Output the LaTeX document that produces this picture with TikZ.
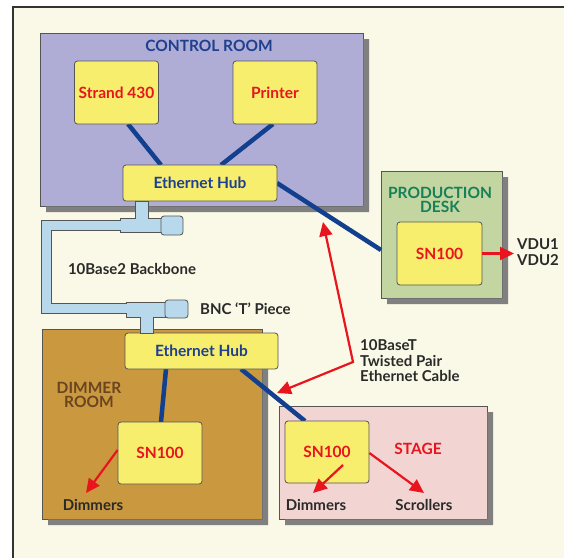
\documentclass[tikz,border=0pt]{standalone}
\usepackage{fontspec}
\setmainfont{Lato}
\usetikzlibrary{arrows.meta}
\definecolor{cream}{HTML}{FAF8E6}
\definecolor{framec}{HTML}{333333}
\definecolor{ctrlfill}{HTML}{AFADD6}
\definecolor{prodfill}{HTML}{C3D5A0}
\definecolor{dimfill}{HTML}{C9983F}
\definecolor{stagefill}{HTML}{F2D4D2}
\definecolor{devfill}{HTML}{F7EE6E}
\definecolor{edgec}{HTML}{555555}
\definecolor{netblue}{HTML}{123F8E}
\definecolor{titleblue}{HTML}{1F3F8F}
\definecolor{redc}{HTML}{E8141E}
\definecolor{greenc}{HTML}{168058}
\definecolor{brownc}{HTML}{6B4420}
\definecolor{textc}{HTML}{2A2A2A}
\definecolor{pipefill}{HTML}{B8D8EC}
\tikzset{
  room/.style={draw=edgec, line width=0.6pt, anchor=north west, inner sep=0pt, outer sep=0pt},
  shadowfill/.style={fill=gray},
  device/.style={draw=edgec, line width=0.8pt, fill=devfill, rounded corners=3pt,
    inner sep=0pt, font=\fontsize{15.5}{17}\selectfont\bfseries},
  devred/.style={device, text=redc},
  devblue/.style={device, text=titleblue},
  netline/.style={netblue, line width=4.5pt},
  redarrow/.style={redc, line width=2.2pt, -{Triangle[length=14pt,width=13pt]}},
  lbl/.style={font=\fontsize{15}{15.5}\selectfont\bfseries, text=textc, inner sep=0pt},
  roomtitle/.style={font=\fontsize{15.5}{14.5}\selectfont\bfseries, inner sep=0pt, align=center},
  pipeedge/.style={draw=edgec, line width=0.8pt, fill=pipefill},
}
\begin{document}
\begin{tikzpicture}[x=1pt,y=-1pt]
\useasboundingbox (0,0) rectangle (564,558);
\fill[white] (0,0) rectangle (564,558);
\fill[cream] (13,7) rectangle (564,558);
\draw[framec, line width=2pt] (13,558) -- (13,7) -- (564,7);

% rooms
\node[room, fill=ctrlfill, minimum width=323pt, minimum height=173pt] (ctrl) at (40,33) {};
\node[room, fill=dimfill, minimum width=220pt, minimum height=190pt] (dimroom) at (42,329) {};
\node[room, fill=stagefill, minimum width=208pt, minimum height=113pt] (stage) at (279,406) {};
\node[room, fill=prodfill, minimum width=121pt, minimum height=127pt] (prod) at (381,171) {};

% room shadows (right and bottom strips)
\fill[shadowfill] (363.3,39) -- (369,39) -- (369,212) -- (46,212) -- (46,206.3) -- (363.3,206.3) -- cycle;
\fill[shadowfill] (262.3,335) -- (268,335) -- (268,525) -- (48,525) -- (48,519.3) -- (262.3,519.3) -- cycle;
\fill[shadowfill] (487.3,412) -- (493,412) -- (493,525) -- (285,525) -- (285,519.3) -- (487.3,519.3) -- cycle;
\fill[shadowfill] (502.3,177) -- (508,177) -- (508,304) -- (387,304) -- (387,298.3) -- (502.3,298.3) -- cycle;

\node[roomtitle, text=titleblue] (ctrlT) at (209,46) {CONTROL ROOM};
\node[roomtitle, text=greenc] (prodT) at (440,200) {PRODUCTION\\DESK};
\node[roomtitle, text=brownc] (dimT) at (89,395) {DIMMER\\ROOM};
\node[roomtitle, text=redc] (stageT) at (418,449) {STAGE};

% connection points
\coordinate (sA) at (128,124);
\coordinate (hA1) at (161,165);
\coordinate (pA) at (273,124);
\coordinate (hA2) at (221,165);
\coordinate (hA3) at (277,183);
\coordinate (pd) at (381,250);
\coordinate (hB1) at (166,369);
\coordinate (dB) at (161,422);
\coordinate (hB2) at (241,369);
\coordinate (sB) at (305,421);
\draw[netline] (sA) -- (hA1);
\draw[netline] (pA) -- (hA2);
\draw[netline] (hA3) -- (pd);
\draw[netline] (hB1) -- (dB);
\draw[netline] (hB2) -- (sB);

% devices
\node[devred, minimum width=84pt, minimum height=63pt] (strand) at (116.5,92.5) {Strand 430};
\node[devred, minimum width=84pt, minimum height=63pt] (printer) at (275,92.5) {Printer};
\node[devblue, minimum width=154pt, minimum height=36pt] (hubA) at (200,183) {Ethernet Hub};
\node[devblue, minimum width=153pt, minimum height=36pt] (hubB) at (201.5,351) {Ethernet Hub};
\node[devred, minimum width=85pt, minimum height=63pt] (psn) at (439.5,253.5) {SN100};
\node[devred, minimum width=84pt, minimum height=62pt] (dsn) at (160,453) {SN100};
\node[devred, minimum width=84pt, minimum height=62pt] (ssn) at (327,452) {SN100};

% backbone pipe
\draw[edgec, line width=11pt] (124,225.5) -- (46.5,225.5) -- (46.5,308) -- (130,308);
\draw[pipeedge] (135,201) -- (148,201) -- (148,218) -- (162,218) -- (162,232) -- (120,232) -- (120,218) -- (135,218) -- cycle;
\draw[pipeedge, rounded corners=3pt] (161,216) rectangle (183,235);
\draw[pipeedge] (140,333) -- (153,333) -- (153,317) -- (167,317) -- (167,302.5) -- (126,302.5) -- (126,317) -- (140,317) -- cycle;
\draw[pipeedge, rounded corners=3pt] (165,300) rectangle (188,318);
\draw[pipefill, line width=9pt] (124,225.5) -- (46.5,225.5) -- (46.5,308) -- (130,308);

% labels
\node[lbl, anchor=west, align=left] (vdu) at (517,252) {VDU1\\VDU2};
\node[lbl] (bb) at (132,269) {10Base2 Backbone};
\node[lbl, anchor=west] (bnc) at (200,309) {BNC ‘T’ Piece};
\node[lbl, anchor=west, align=left] (tp) at (360,361) {10BaseT\\Twisted Pair\\Ethernet Cable};
\node[lbl] (dim1) at (93,505) {Dimmers};
\node[lbl] (dim2) at (316,505) {Dimmers};
\node[lbl] (scr) at (424,505) {Scrollers};

% red arrows
\coordinate (vduT) at (514,253.5);
\coordinate (tpA) at (323,222);
\coordinate (tpB) at (353,362);
\coordinate (tpC) at (277,393);
\coordinate (d1T) at (86,493);
\coordinate (d2S) at (343,465);
\coordinate (d2T) at (313,493);
\coordinate (scT) at (424,493);
\draw[redarrow] (psn.east) -- (vduT);
\draw[redarrow, {Triangle[length=14pt,width=13pt]}-{Triangle[length=14pt,width=13pt]}] (tpA) -- (tpB) -- (tpC);
\draw[redarrow] ([yshift=3pt]dsn.west) -- (d1T);
\draw[redarrow] (d2S) -- (d2T);
\draw[redarrow] ([yshift=-1pt]ssn.east) -- (scT);
\end{tikzpicture}
\end{document}
